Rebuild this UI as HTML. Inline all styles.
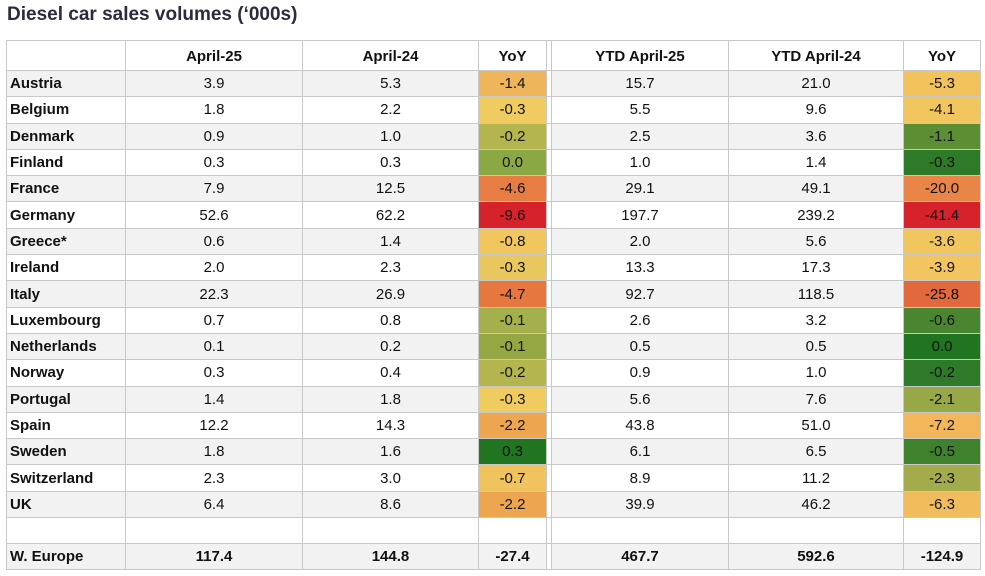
<!DOCTYPE html>
<html><head><meta charset="utf-8"><style>
body{margin:0;width:985px;height:576px;background:#fff;font-family:"Liberation Sans",sans-serif;position:relative;overflow:hidden}
h1{position:absolute;left:7px;top:4px;margin:0;font-size:19px;font-weight:bold;color:#2b2b3d}
table{position:absolute;left:6px;top:40px;border-collapse:collapse;table-layout:fixed;font-size:15px;color:#111}
td{border:1px solid #c8c8c8;height:25.3px;padding:0;text-align:center;white-space:nowrap}
td:first-child{text-align:left;padding-left:3px;font-weight:bold}
tr.h td{height:27px;font-weight:bold;background:#fff;padding-top:2px}
tr.g td{background:#f2f2f2}
td.gap{background:#fff!important}
tr.t td{font-weight:bold;height:25px}
</style></head><body>
<h1>Diesel car sales volumes (‘000s)</h1>
<table>
<colgroup><col style="width:119px"><col style="width:177px"><col style="width:176px"><col style="width:68px"><col style="width:5px"><col style="width:177px"><col style="width:175px"><col style="width:77px"></colgroup>
<tr class="h"><td></td><td>April-25</td><td>April-24</td><td>YoY</td><td class="gap"></td><td>YTD April-25</td><td>YTD April-24</td><td>YoY</td></tr>
<tr class="g"><td>Austria</td><td>3.9</td><td>5.3</td><td style="background:#efb55a!important">-1.4</td><td class="gap"></td><td>15.7</td><td>21.0</td><td style="background:#f2c25c!important">-5.3</td></tr>
<tr><td>Belgium</td><td>1.8</td><td>2.2</td><td style="background:#f0cb60">-0.3</td><td class="gap"></td><td>5.5</td><td>9.6</td><td style="background:#f2c65f">-4.1</td></tr>
<tr class="g"><td>Denmark</td><td>0.9</td><td>1.0</td><td style="background:#b5b54f!important">-0.2</td><td class="gap"></td><td>2.5</td><td>3.6</td><td style="background:#5c8f34!important">-1.1</td></tr>
<tr><td>Finland</td><td>0.3</td><td>0.3</td><td style="background:#8aa844">0.0</td><td class="gap"></td><td>1.0</td><td>1.4</td><td style="background:#2f7a28">-0.3</td></tr>
<tr class="g"><td>France</td><td>7.9</td><td>12.5</td><td style="background:#e87d44!important">-4.6</td><td class="gap"></td><td>29.1</td><td>49.1</td><td style="background:#e98546!important">-20.0</td></tr>
<tr><td>Germany</td><td>52.6</td><td>62.2</td><td style="background:#d6222a">-9.6</td><td class="gap"></td><td>197.7</td><td>239.2</td><td style="background:#d6222a">-41.4</td></tr>
<tr class="g"><td>Greece*</td><td>0.6</td><td>1.4</td><td style="background:#f2c65f!important">-0.8</td><td class="gap"></td><td>2.0</td><td>5.6</td><td style="background:#f2c65f!important">-3.6</td></tr>
<tr><td>Ireland</td><td>2.0</td><td>2.3</td><td style="background:#e8c85e">-0.3</td><td class="gap"></td><td>13.3</td><td>17.3</td><td style="background:#f2c560">-3.9</td></tr>
<tr class="g"><td>Italy</td><td>22.3</td><td>26.9</td><td style="background:#e6773f!important">-4.7</td><td class="gap"></td><td>92.7</td><td>118.5</td><td style="background:#e2683e!important">-25.8</td></tr>
<tr><td>Luxembourg</td><td>0.7</td><td>0.8</td><td style="background:#a4b04b">-0.1</td><td class="gap"></td><td>2.6</td><td>3.2</td><td style="background:#4a862f">-0.6</td></tr>
<tr class="g"><td>Netherlands</td><td>0.1</td><td>0.2</td><td style="background:#95a742!important">-0.1</td><td class="gap"></td><td>0.5</td><td>0.5</td><td style="background:#217520!important">0.0</td></tr>
<tr><td>Norway</td><td>0.3</td><td>0.4</td><td style="background:#b5b54f">-0.2</td><td class="gap"></td><td>0.9</td><td>1.0</td><td style="background:#2f7a28">-0.2</td></tr>
<tr class="g"><td>Portugal</td><td>1.4</td><td>1.8</td><td style="background:#f0cb60!important">-0.3</td><td class="gap"></td><td>5.6</td><td>7.6</td><td style="background:#98a846!important">-2.1</td></tr>
<tr><td>Spain</td><td>12.2</td><td>14.3</td><td style="background:#eca650">-2.2</td><td class="gap"></td><td>43.8</td><td>51.0</td><td style="background:#f2b75a">-7.2</td></tr>
<tr class="g"><td>Sweden</td><td>1.8</td><td>1.6</td><td style="background:#217520!important">0.3</td><td class="gap"></td><td>6.1</td><td>6.5</td><td style="background:#3f812d!important">-0.5</td></tr>
<tr><td>Switzerland</td><td>2.3</td><td>3.0</td><td style="background:#f1c35e">-0.7</td><td class="gap"></td><td>8.9</td><td>11.2</td><td style="background:#a4ab4a">-2.3</td></tr>
<tr class="g"><td>UK</td><td>6.4</td><td>8.6</td><td style="background:#eca650!important">-2.2</td><td class="gap"></td><td>39.9</td><td>46.2</td><td style="background:#f0bc5c!important">-6.3</td></tr>
<tr><td></td><td></td><td></td><td></td><td class="gap"></td><td></td><td></td><td></td></tr>
<tr class="g t"><td>W. Europe</td><td>117.4</td><td>144.8</td><td>-27.4</td><td class="gap"></td><td>467.7</td><td>592.6</td><td>-124.9</td></tr>
</table>
</body></html>
